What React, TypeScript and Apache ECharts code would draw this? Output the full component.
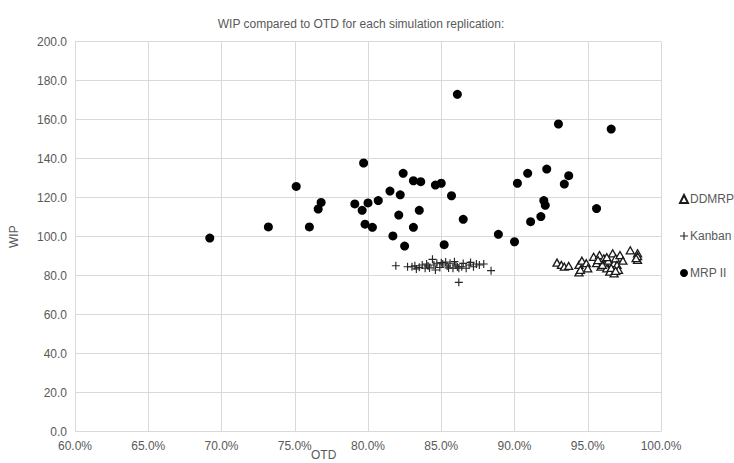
import React, { useEffect, useRef } from "react";
import * as echarts from "echarts";

// OTD (%) and WIP per replication
const mrpOTD = [69.2, 73.2, 75.1, 76.0, 76.6, 76.8, 79.7, 82.4, 83.1, 83.6, 84.6, 85.0, 81.5, 82.2, 85.7, 79.1, 80.0, 80.7, 79.6, 83.5, 82.1, 79.8, 80.3, 83.1, 81.7, 82.5, 85.2, 86.1, 93.0, 90.2, 90.9, 92.2, 92.0, 92.1, 91.8, 91.1, 86.5, 88.9, 90.0, 96.6, 93.7, 93.4, 95.6];
const mrpWIP = [99.3, 105.0, 125.8, 105.0, 114.2, 117.6, 137.8, 132.5, 128.7, 128.2, 126.5, 127.4, 123.4, 121.5, 121.0, 116.8, 117.3, 118.5, 113.5, 113.5, 111.1, 106.4, 104.8, 104.8, 100.4, 95.2, 95.9, 173.0, 157.8, 127.4, 132.5, 134.7, 118.5, 116.1, 110.3, 107.7, 108.9, 101.2, 97.4, 155.2, 131.3, 127.0, 114.4];

const kanbanOTD = [81.9, 82.7, 83.0, 83.2, 83.5, 83.7, 83.9, 84.1, 84.4, 84.5, 84.6, 84.7, 85.0, 85.1, 85.4, 85.6, 85.8, 86.0, 86.2, 86.2, 86.4, 86.7, 86.9, 87.2, 87.4, 87.6, 87.9, 88.4, 83.3, 84.2, 84.9, 85.3, 85.9, 86.5, 87.0, 84.0, 85.5, 86.1];
const kanbanWIP = [85.1, 84.6, 84.6, 85.1, 84.3, 85.5, 83.8, 85.0, 88.4, 85.5, 82.9, 86.4, 86.7, 86.0, 85.0, 86.4, 83.8, 85.5, 83.8, 76.6, 84.6, 83.8, 85.5, 84.6, 86.0, 85.5, 86.0, 82.6, 83.5, 84.0, 84.2, 87.0, 87.2, 86.3, 86.8, 86.0, 84.0, 84.5];

const ddmrpOTD = [92.9, 93.2, 93.4, 93.7, 94.4, 94.4, 94.5, 94.6, 94.9, 95.0, 95.4, 95.6, 95.8, 95.9, 96.1, 96.2, 96.3, 96.4, 96.5, 96.7, 96.8, 96.8, 96.9, 97.0, 97.2, 97.4, 97.9, 98.4, 98.4, 98.4, 96.0, 96.6, 97.1, 96.3, 95.7, 96.9, 98.3];
const ddmrpWIP = [86.7, 85.5, 84.6, 85.0, 85.5, 81.7, 83.0, 87.7, 86.4, 83.8, 89.7, 86.4, 90.6, 84.6, 88.9, 86.4, 83.8, 87.7, 82.1, 91.5, 86.4, 81.2, 88.9, 85.5, 90.6, 87.7, 93.0, 91.5, 88.1, 90.0, 85.5, 84.0, 83.0, 89.5, 88.0, 82.5, 89.0];

const seriesNames = ["DDMRP", "Kanban", "MRP II"];
const titleText = "WIP compared to OTD for each simulation replication:";
const xName = "OTD";
const yName = "WIP";

const zip = (a: number[], b: number[]) => a.map((v, i) => [v, b[i]]);

const PLUS = "path://M3,0H4V3H7V4H4V7H3V4H0V3H3Z";

export default function App() {
  const ref = useRef<HTMLDivElement>(null);
  useEffect(() => {
    if (!ref.current) return;
    document.body.style.margin = "0";
    const chart = echarts.init(ref.current, undefined, { renderer: "svg" });
    const txt = "#595959";
    const font = "'Liberation Sans', Arial, sans-serif";
    chart.setOption({
      animation: false,
      backgroundColor: "#fff",
      textStyle: { fontFamily: font },
      title: {
        text: titleText,
        left: 356,
        textAlign: "center",
        top: 13,
        textStyle: { fontSize: 12, fontWeight: "normal", color: txt, fontFamily: font },
      },
      grid: { left: 70.6, right: 73, top: 41.7, bottom: 31.3, containLabel: false },
      legend: {
        data: seriesNames,
        orient: "vertical",
        left: 679,
        top: 193,
        itemWidth: 8,
        itemHeight: 8,
        itemGap: 25,
        padding: 0,
        textStyle: {
          fontSize: 12,
          color: txt,
          fontFamily: font,
          padding: [0, 0, 0, -3],
          overflow: "none",
        },
      },
      xAxis: {
        type: "value",
        min: 60,
        max: 100,
        interval: 5,
        axisLine: { show: false },
        axisTick: { show: false },
        splitLine: { show: true, lineStyle: { color: "#d9d9d9", width: 1 } },
        axisLabel: {
          color: txt,
          fontSize: 12,
          margin: 8,
          formatter: (v: number) => v.toFixed(1) + "%",
        },
      },
      yAxis: {
        type: "value",
        min: 0,
        max: 200,
        interval: 20,
        name: yName,
        nameLocation: "middle",
        nameGap: 55,
        nameRotate: 90,
        nameTextStyle: { color: txt, fontSize: 12, fontFamily: font },
        axisLine: { show: false },
        axisTick: { show: false },
        splitLine: { show: true, lineStyle: { color: "#d9d9d9", width: 1 } },
        axisLabel: {
          color: txt,
          fontSize: 12,
          margin: 8,
          formatter: (v: number) => v.toFixed(1),
        },
      },
      graphic: [
        {
          type: "text",
          left: 311,
          top: 449,
          style: { text: xName, fill: txt, fontSize: 12, fontFamily: font },
        },
      ],
      series: [
        {
          name: "DDMRP",
          type: "scatter",
          symbol: "triangle",
          symbolSize: [8, 7],
          itemStyle: { color: "#ffffff", borderColor: "#1a1a1a", borderWidth: 1.3, opacity: 1 },
          data: zip(ddmrpOTD, ddmrpWIP),
          z: 3,
        },
        {
          name: "Kanban",
          type: "scatter",
          symbol: PLUS,
          symbolSize: 8,
          itemStyle: { color: "#262626", opacity: 1 },
          data: zip(kanbanOTD, kanbanWIP),
          z: 2,
        },
        {
          name: "MRP II",
          type: "scatter",
          symbol: "circle",
          symbolSize: 9,
          itemStyle: { color: "#000000", opacity: 1 },
          data: zip(mrpOTD, mrpWIP),
          z: 4,
        },
      ],
    });
    return () => chart.dispose();
  }, []);
  return <div ref={ref} style={{ width: 734, height: 463 }} />;
}
